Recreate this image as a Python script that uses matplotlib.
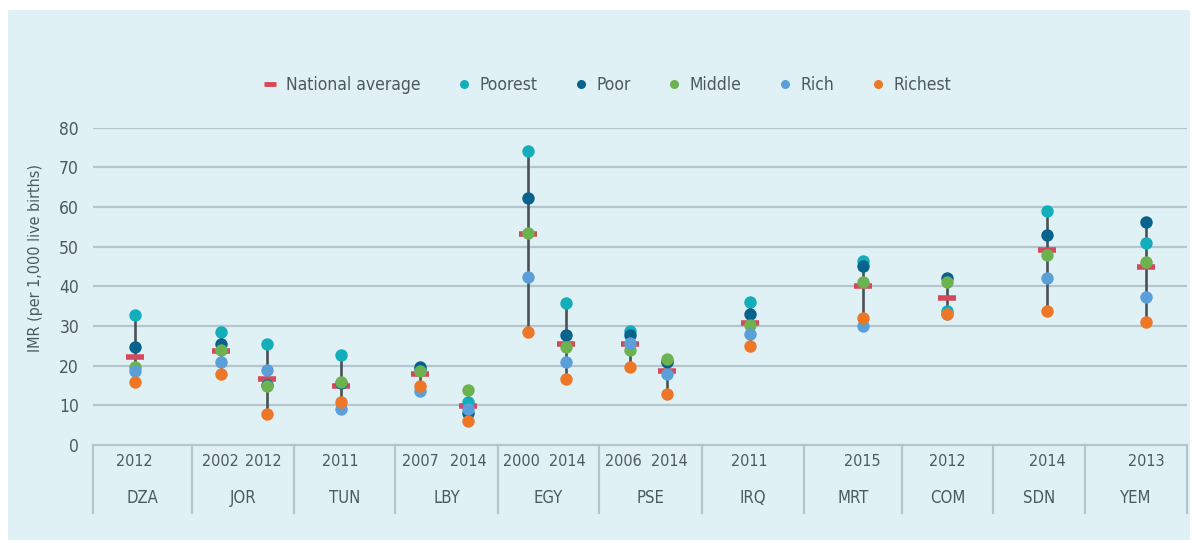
import numpy as np
import matplotlib.pyplot as plt
from matplotlib.lines import Line2D
from matplotlib.patches import Rectangle

plt.rcParams['font.family'] = ['Liberation Sans Narrow', 'DejaVu Sans']
plt.rcParams['font.stretch'] = 'condensed'

BG = '#e0f1f6'
GRID = '#b3c6ce'
TEXT = '#4d5961'
STEM = '#4a5156'
NAT_COLOR = '#d44a5c'
COLORS = {'Poorest': '#14adba', 'Poor': '#07628c', 'Middle': '#6cb250',
          'Rich': '#5b9fd9', 'Richest': '#ee7627'}

# categories
countries = ['DZA', 'JOR', 'TUN', 'LBY', 'EGY', 'PSE', 'IRQ', 'MRT', 'COM', 'SDN', 'YEM']
survey_country = [0, 1, 1, 2, 3, 3, 4, 4, 5, 5, 6, 7, 8, 9, 10]
survey_year = ['2012', '2002', '2012', '2011', '2007', '2014', '2000', '2014',
               '2006', '2014', '2011', '2015', '2012', '2014', '2013']

# IMR per 1,000 live births
national = [22.3, 23.7, 16.6, 14.8, 17.8, 9.8, 53.2, 25.4, 25.4, 18.7, 30.7, 40.1, 37.1, 49.1, 44.8]
poorest = [32.8, 28.5, 25.5, 22.6, 19.2, 10.9, 74.1, 35.7, 28.7, 21.2, 36.1, 46.4, 33.9, 59.0, 50.9]
poor = [24.7, 25.5, 15.2, 15.7, 19.7, 8.0, 62.3, 27.7, 27.8, 20.9, 33.0, 45.1, 42.2, 53.0, 56.1]
middle = [19.7, 24.0, 15.0, 15.9, 18.7, 13.8, 53.4, 24.7, 24.0, 21.8, 30.2, 41.2, 41.2, 47.9, 46.2]
rich = [18.7, 20.9, 18.8, 9.2, 13.7, 9.2, 42.4, 20.9, 25.6, 18.0, 27.9, 30.0, 33.0, 42.0, 37.3]
richest = [15.9, 18.0, 7.8, 10.8, 15.0, 6.1, 28.6, 16.7, 19.7, 12.9, 24.9, 32.1, 33.0, 33.8, 31.0]

quintiles = [('Poorest', poorest), ('Poor', poor), ('Middle', middle),
             ('Rich', rich), ('Richest', richest)]

# layout: group widths, point placement inside group, year-label nudges
group_widths = [1.0, 1.02, 1.02, 1.03, 1.02, 1.03, 1.03, 0.98, 0.92, 0.92, 1.03]
point_frac = [0.42, 0.28, 0.73, 0.46, 0.24, 0.71, 0.30, 0.67, 0.30, 0.66,
              0.47, 0.60, 0.50, 0.59, 0.60]
label_nudge = [0, 0, -0.03, 0, 0, 0, -0.07, 0.02, -0.07, 0.02, 0, 0, 0, 0, 0]

edges = np.concatenate([[0], np.cumsum(group_widths)])
xs = np.array([edges[g] + f * group_widths[g] for g, f in zip(survey_country, point_frac)])

fig = plt.figure(figsize=(11.95, 5.43), dpi=100, facecolor='white')
fig.patches.append(Rectangle((8 / 1195, 1 - 540 / 543), 1182 / 1195, 530 / 543,
                             transform=fig.transFigure, facecolor=BG,
                             edgecolor='none', zorder=-5))

ax = fig.add_axes([93 / 1195, 1 - 445 / 543, 1094 / 1195, 317.3 / 543])
ax.set_facecolor('none')
ax.set_xlim(0, edges[-1])
ax.set_ylim(0, 80)

for v in range(10, 81, 10):
    ax.axhline(v, color=GRID, lw=1.6, zorder=1)
for s in ax.spines.values():
    s.set_visible(False)
ax.axhline(0, color=GRID, lw=1.6, zorder=1, clip_on=False)

ax.set_yticks(range(0, 81, 10))
ax.tick_params(axis='y', length=0, pad=10, labelsize=12.5, labelcolor=TEXT)
ax.set_xticks([])
ax.set_ylabel('IMR (per 1,000 live births)', fontsize=11.5, color=TEXT)
ax.yaxis.set_label_coords(-0.046, 0.59)

# category box separators
for e in edges:
    ax.plot([e, e], [0, -0.213], transform=ax.get_xaxis_transform(),
            color=GRID, lw=1.6, clip_on=False)
for x, yr, nd in zip(xs, survey_year, label_nudge):
    ax.text(x + nd, -0.052, yr, transform=ax.get_xaxis_transform(), ha='center',
            va='center', fontsize=11.5, color=TEXT)
for i, c in enumerate(countries):
    ax.text((edges[i] + edges[i + 1]) / 2, -0.166, c, transform=ax.get_xaxis_transform(),
            ha='center', va='center', fontsize=12, color=TEXT)

# stems
allv = np.array([national] + [v for _, v in quintiles])
ax.vlines(xs, allv.min(axis=0), allv.max(axis=0), color=STEM, lw=1.9, zorder=2)

ax.plot(xs, national, linestyle='none', marker='_', ms=13, mew=4,
        color=NAT_COLOR, zorder=3, clip_on=False)
for i, (name, vals) in enumerate(quintiles):
    ax.scatter(xs, vals, s=80, color=COLORS[name], zorder=4 + i,
               linewidths=0, clip_on=False)

handles = [Line2D([], [], linestyle='none', marker='_', ms=9, mew=3.5, color=NAT_COLOR)]
handles += [Line2D([], [], linestyle='none', marker='o', ms=6.5, mew=0,
                   color=COLORS[n]) for n, _ in quintiles]
labels = ['National average'] + [n for n, _ in quintiles]
fig.legend(handles, labels, loc='center', bbox_to_anchor=(0.508, 1 - 85 / 543),
           ncol=6, frameon=False, fontsize=12.5, labelcolor=TEXT,
           handlelength=0.8, handletextpad=0.5, columnspacing=2.1)

fig.savefig('out.png', dpi=100, facecolor='white')
